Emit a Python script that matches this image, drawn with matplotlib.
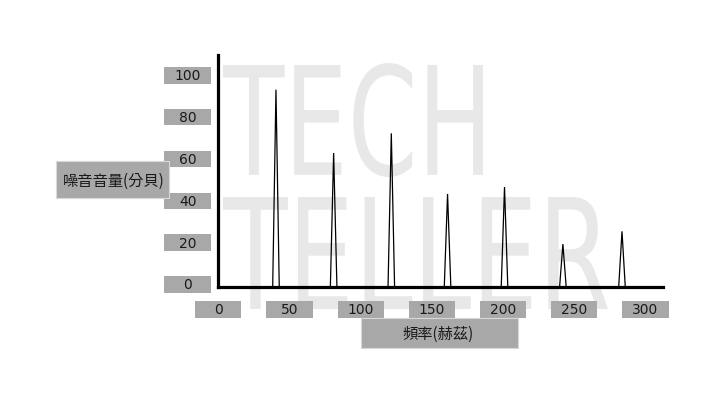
import numpy as np
import matplotlib
matplotlib.use("Agg")
import matplotlib.pyplot as plt
from matplotlib.patches import Rectangle, PathPatch
from matplotlib.textpath import TextPath
from matplotlib.font_manager import FontProperties
from matplotlib.transforms import Affine2D, IdentityTransform, blended_transform_factory

plt.rcParams['font.family'] = ['Noto Sans CJK TC', 'DejaVu Sans']

# peaks of the noise spectrum
peak_freq = [40.5, 81, 121.5, 161, 201, 242, 283.5]
peak_level = [94.3, 64, 73.4, 44.4, 47.7, 20.4, 26.5]
peak_halfwidth = 2.3

x_ticks = [0, 50, 100, 150, 200, 250, 300]
y_ticks = [0, 20, 40, 60, 80, 100]
x_label = "頻率(赫茲)"
y_label = "噪音音量(分貝)"

W, H = 722, 406
box_col = "#a8a8a8"
txt_col = "#1a1a1a"

fig = plt.figure(figsize=(W / 100, H / 100), dpi=100)
fig.patch.set_facecolor("white")


def watermark(word, x0, y0, x1, y1):
    tp = TextPath((0, 0), word, size=100,
                  prop=FontProperties(family="DejaVu Sans", weight="normal"))
    ext = tp.get_extents()
    tr = (Affine2D().translate(-ext.x0, -ext.y0)
          .scale((x1 - x0) / ext.width, (y1 - y0) / ext.height)
          .translate(x0, H - y1))
    fig.patches.append(PathPatch(tr.transform_path(tp), facecolor="#e8e8e8",
                                 edgecolor="none", transform=IdentityTransform(),
                                 zorder=-5))


watermark("TECH", 223, 64, 483, 178)
watermark("TELLER", 223, 198, 608, 310)

ax = fig.add_axes([218.3 / W, (H - 287.7) / H, (663 - 218.3) / W, (287.7 - 56) / H])
ax.set_facecolor("none")
ax.set_xlim(0, 312.3)
ax.set_ylim(0, 110.9)

for f, lv in zip(peak_freq, peak_level):
    ax.plot([f - peak_halfwidth, f, f + peak_halfwidth], [0, lv, 0],
            color="black", lw=0.9, solid_joinstyle="miter")

for s in ["top", "right"]:
    ax.spines[s].set_visible(False)
for s in ["left", "bottom"]:
    ax.spines[s].set_linewidth(2.3)
    ax.spines[s].set_color("black")
ax.set_xticks([])
ax.set_yticks([])

# y tick boxes
ty = blended_transform_factory(ax.transAxes, ax.transData)
for v in y_ticks:
    ax.add_patch(Rectangle((-0.1221, v + 1.1 - 3.9), 0.1057, 7.8, transform=ty,
                           facecolor=box_col, edgecolor="none", clip_on=False))
    ax.text(-0.069, v + 1.1, str(v), transform=ty, ha="center", va="center",
            fontsize=10, color=txt_col, family="DejaVu Sans")

# x tick boxes
tx = blended_transform_factory(ax.transData, ax.transAxes)
for v in x_ticks:
    ax.add_patch(Rectangle((v - 16.2, -0.1364), 32.4, 0.076, transform=tx,
                           facecolor=box_col, edgecolor="none", clip_on=False))
    ax.text(v, -0.0984, str(v), transform=tx, ha="center", va="center",
            fontsize=10, color=txt_col, family="DejaVu Sans")

# axis label boxes
fig.patches.append(Rectangle((56 / W, 1 - 199.3 / H), 113.3 / W, 37.6 / H,
                             transform=fig.transFigure, facecolor=box_col,
                             edgecolor="#d8d8d8", lw=0.8))
fig.text(114 / W, 1 - 181 / H, y_label, ha="center", va="center",
         fontsize=11, color=txt_col)

fig.patches.append(Rectangle((361 / W, 1 - 349 / H), 156.7 / W, 29.7 / H,
                             transform=fig.transFigure, facecolor=box_col,
                             edgecolor="#d8d8d8", lw=0.8))
fig.text(438 / W, 1 - 334 / H, x_label, ha="center", va="center",
         fontsize=11, color=txt_col)

fig.savefig("out.png", dpi=100)
